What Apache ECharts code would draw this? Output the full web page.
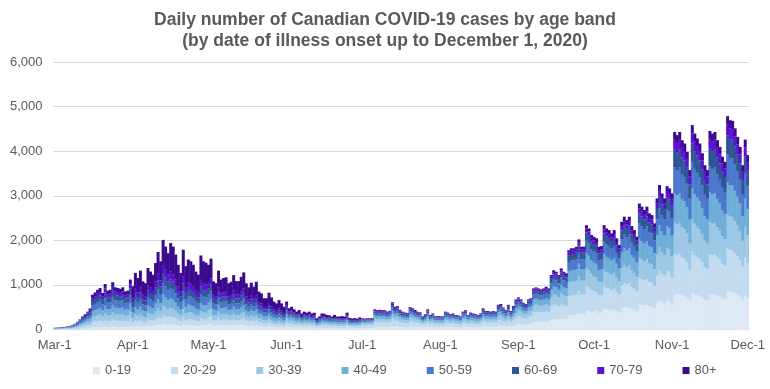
<!DOCTYPE html>
<html>
<head>
<meta charset="utf-8">
<script src="https://cdn.jsdelivr.net/npm/echarts@6/dist/echarts.min.js"></script>
<style>
html,body{margin:0;padding:0;background:#fff;}
#chart{width:770px;height:389px;}
</style>
</head>
<body>
<div id="chart"></div>
<script>
// Month names / lengths used to build the daily categories (Mar 1 .. Dec 1, 2020)
const monthNames = ['Mar','Apr','May','Jun','Jul','Aug','Sep','Oct','Nov','Dec'];
const monthDays = [31,30,31,30,31,31,30,31,30,1];
const tickLabels = ['Mar-1','Apr-1','May-1','Jun-1','Jul-1','Aug-1','Sep-1','Oct-1','Nov-1','Dec-1'];
const yTicks = [0,1000,2000,3000,4000,5000,6000];
const bandNames = ['0-19','20-29','30-39','40-49','50-59','60-69','70-79','80+'];

const a0_19 = [2,2,3,3,3,4,4,5,7,9,12,15,17,20,
28,47,50,53,56,49,61,52,53,64,57,56,55,57,51,52,67,
58,76,69,79,65,62,83,78,74,89,104,92,121,112,103,
116,112,101,87,76,107,85,94,92,87,78,74,100,92,90,
116,127,86,83,106,90,92,94,83,86,98,87,87,94,102,83,76,84,77,86,68,65,56,56,66,58,50,47,53,47,41,
63,48,51,45,40,44,36,40,38,40,36,38,25,29,36,35,33,32,29,33,29,29,30,29,38,26,25,26,24,27,
33,32,33,33,34,59,56,57,56,56,52,55,79,66,68,57,52,49,48,65,62,57,52,50,38,44,59,42,47,39,39,
45,44,60,57,52,54,49,49,44,60,65,49,57,54,52,49,54,71,62,62,60,62,60,83,86,74,65,83,62,79,101,
130,122,108,103,122,126,166,170,166,162,166,173,166,220,239,233,220,247,233,227,320,328,328,334,364,334,335,421,408,382,
416,409,371,374,468,453,446,431,446,409,379,483,506,491,506,464,446,416,565,551,536,551,521,513,476,588,648,610,588,643,633,
549,797,785,797,764,751,717,644,825,791,771,751,711,663,644,802,791,797,764,737,698,677,861,845,842,812,778,737,663,767,704];

const a20_29 = [7,8,9,10,11,13,14,18,23,31,41,52,61,72,
71,117,125,134,140,123,153,131,134,159,142,140,137,142,128,131,168,
97,127,116,132,108,104,138,130,123,149,174,153,201,186,171,
175,167,151,131,114,161,128,141,138,131,117,111,149,138,135,
160,175,119,114,145,123,127,129,114,118,134,119,119,130,141,114,104,116,106,118,94,89,77,77,91,79,69,64,73,64,56,
106,81,87,77,68,74,61,68,64,68,61,64,43,49,61,60,55,54,49,55,49,49,51,49,64,44,42,43,41,46,
63,61,64,63,65,113,108,110,108,108,100,105,153,128,131,110,100,95,93,125,119,109,100,96,73,85,113,81,90,75,75,
69,67,92,87,79,83,75,75,67,92,100,75,87,83,79,75,83,109,95,95,92,95,92,127,131,113,100,127,95,121,155,
173,162,144,137,162,168,221,227,221,216,221,230,221,293,319,311,293,329,311,302,427,437,437,445,485,445,446,562,544,509,
437,429,390,393,491,476,468,453,468,429,398,507,531,516,531,487,468,437,593,579,563,579,547,539,500,617,680,641,617,675,665,
610,886,872,886,849,834,797,715,917,879,857,834,790,737,715,891,879,886,849,819,775,752,957,939,936,902,864,819,737,852,782];

const a30_39 = [7,8,9,9,10,12,14,17,22,29,39,49,58,68,
71,117,125,134,140,123,153,131,134,159,142,140,137,142,128,131,168,
107,140,127,145,119,114,152,143,135,164,191,168,221,205,188,
194,186,168,145,127,179,142,157,153,145,130,123,166,153,150,
160,175,119,114,145,123,127,129,114,118,134,119,119,130,141,114,104,116,106,118,94,89,77,77,91,79,69,64,73,64,56,
88,67,71,63,56,61,50,56,53,56,50,53,35,41,50,49,46,44,41,46,41,41,42,41,53,36,34,36,34,38,
43,42,43,43,44,77,73,75,73,73,68,71,104,87,89,75,68,65,63,85,81,74,68,65,49,58,77,55,61,51,51,
51,49,68,65,59,61,55,55,49,68,74,55,65,61,59,55,61,81,71,71,68,71,68,94,97,83,74,94,71,89,115,
122,115,102,97,115,119,156,161,156,153,156,163,156,207,226,220,207,233,220,214,303,309,309,315,343,315,316,398,385,360,
333,327,297,299,374,362,357,345,357,327,303,386,405,393,405,371,357,333,452,441,429,441,417,410,381,470,518,488,470,514,506,
488,709,698,709,679,667,638,572,734,703,686,667,632,590,572,713,703,709,679,655,620,602,766,751,749,722,691,655,590,682,626];

const a40_49 = [7,8,9,9,10,12,14,17,22,29,39,49,58,68,
75,125,133,142,149,131,163,139,142,170,151,149,146,151,137,139,179,
116,152,139,158,130,125,166,156,148,179,209,184,241,223,205,
213,205,185,160,140,197,156,173,168,160,143,135,183,168,165,
174,191,130,125,158,134,139,140,124,128,146,130,130,142,154,124,113,126,115,128,102,97,84,84,99,86,75,70,79,70,61,
88,67,71,63,56,61,50,56,53,56,50,53,35,41,50,49,46,44,41,46,41,41,42,41,53,36,34,36,34,38,
35,34,36,35,36,63,60,62,60,60,56,59,85,71,74,62,56,53,52,70,67,61,56,54,41,48,63,46,50,42,42,
45,44,60,57,52,54,49,49,44,60,65,49,57,54,52,49,54,71,62,62,60,62,60,83,86,74,65,83,62,79,101,
101,95,84,80,95,98,129,132,129,126,129,134,129,171,186,181,171,192,181,176,249,255,255,260,283,260,260,328,317,297,
312,307,278,281,351,340,335,323,335,307,284,362,380,368,380,348,335,312,424,413,402,413,391,385,357,441,486,458,441,482,475,
458,665,654,665,637,626,598,536,688,659,643,626,593,553,536,668,659,665,637,614,581,564,718,704,702,677,648,614,553,639,587];

const a50_59 = [7,8,9,10,11,13,14,18,23,31,41,52,61,72,
80,133,141,151,158,139,173,148,151,180,161,158,155,161,145,148,190,
126,165,150,172,140,135,179,169,160,194,226,199,261,242,222,
233,223,202,174,152,215,170,188,184,174,156,148,199,184,180,
174,191,130,125,158,134,139,140,124,128,146,130,130,142,154,124,113,126,115,128,102,97,84,84,99,86,75,70,79,70,61,
81,62,66,59,52,57,47,52,49,52,47,49,33,38,47,46,42,41,38,42,38,38,39,38,49,34,32,33,31,35,
30,29,31,30,31,54,52,53,52,52,48,50,73,61,63,53,48,46,44,60,57,52,48,46,35,41,54,39,43,36,36,
39,38,52,49,45,47,42,42,38,52,57,42,49,47,45,42,47,62,54,54,52,54,52,72,74,64,57,72,54,68,88,
86,81,72,68,81,84,110,113,110,108,110,115,110,146,160,155,146,164,155,151,214,218,218,223,242,223,223,281,272,254,
250,245,223,224,281,272,268,259,268,245,227,290,304,295,304,278,268,250,339,331,322,331,313,308,286,353,389,366,353,386,380,
397,576,567,576,552,542,518,465,596,571,557,542,514,479,465,579,571,576,552,532,504,489,622,610,608,586,562,532,479,554,508];

const a60_69 = [6,6,7,8,8,10,11,14,18,24,32,41,48,56,
61,101,108,116,121,107,133,113,116,138,123,121,118,123,111,113,146,
107,140,127,145,119,114,152,143,135,164,191,168,221,205,188,
194,186,168,145,127,179,142,157,153,145,130,123,166,153,150,
145,159,108,104,132,112,116,117,104,107,122,109,109,118,128,104,95,105,96,107,85,81,70,70,83,72,63,59,66,59,51,
63,48,51,45,40,44,36,40,38,40,36,38,25,29,36,35,33,32,29,33,29,29,30,29,38,26,25,26,24,27,
23,22,23,23,23,41,39,40,39,39,36,38,55,46,47,40,36,34,33,45,43,39,36,35,26,31,41,29,32,27,27,
27,26,36,34,31,32,29,29,26,36,39,29,34,32,31,29,32,43,37,37,36,37,36,50,51,44,39,50,37,47,61,
58,54,48,46,54,56,74,76,74,72,74,77,74,98,106,104,98,110,104,101,142,146,146,148,162,148,149,187,181,170,
166,164,148,150,187,181,178,172,178,164,152,193,202,196,202,186,178,166,226,220,214,220,208,205,190,235,259,244,235,257,253,
275,399,392,399,382,375,359,322,413,396,386,375,356,332,322,401,396,399,382,369,349,338,431,423,421,406,389,369,332,383,352];

const a70_79 = [3,3,4,4,4,5,6,7,9,12,16,20,24,28,
38,62,66,71,74,66,82,70,71,85,76,74,73,76,68,70,90,
87,114,104,119,97,94,124,117,111,134,157,138,181,167,154,
175,167,151,131,114,161,128,141,138,131,117,111,149,138,135,
116,127,86,83,106,90,92,94,83,86,98,87,87,94,102,83,76,84,77,86,68,65,56,56,66,58,50,47,53,47,41,
44,33,36,32,28,30,25,28,26,28,25,26,18,20,25,25,23,22,20,23,20,20,21,20,26,18,17,18,17,19,
13,12,13,13,13,23,22,22,22,22,20,21,31,26,26,22,20,19,19,25,24,22,20,19,15,17,23,16,18,15,15,
12,12,16,15,14,14,13,13,12,16,17,13,15,14,14,13,14,19,17,17,16,17,16,22,23,20,17,22,17,21,27,
29,27,24,23,27,28,37,38,37,36,37,38,37,49,53,52,49,55,52,50,71,73,73,74,81,74,74,94,91,85,
83,82,74,75,94,91,89,86,89,82,76,97,101,98,101,93,89,83,113,110,107,110,104,103,95,118,130,122,118,129,127,
153,222,218,222,212,209,199,179,229,220,214,209,198,184,179,223,220,222,212,205,194,188,239,235,234,226,216,205,184,213,196];

const a80p = [2,2,2,2,2,3,3,4,5,7,9,12,14,16,
47,78,83,89,93,82,102,87,89,106,95,93,91,95,86,87,112,
272,356,323,370,302,291,386,364,344,417,487,428,563,521,479,
640,614,554,479,419,591,469,518,505,479,429,406,548,505,495,
406,445,302,291,370,314,323,328,290,300,342,304,304,330,358,290,265,294,269,300,238,227,196,196,231,202,175,164,185,164,143,
94,71,77,68,60,65,54,60,56,60,54,56,38,44,54,53,49,47,44,49,44,44,45,44,56,39,37,38,36,41,
13,12,13,13,13,23,22,22,22,22,20,21,31,26,26,22,20,19,19,25,24,22,20,19,15,17,23,16,18,15,15,
12,12,16,15,14,14,13,13,12,16,17,13,15,14,14,13,14,19,17,17,16,17,16,22,23,20,17,22,17,21,27,
22,20,18,17,20,21,28,28,28,27,28,29,28,37,40,39,37,41,39,38,53,55,55,56,61,56,56,70,68,64,
83,82,74,75,94,91,89,86,89,82,76,97,101,98,101,93,89,83,113,110,107,110,104,103,95,118,130,122,118,129,127,
122,177,174,177,170,167,159,143,183,176,171,167,158,147,143,178,176,177,170,164,155,150,191,188,187,180,173,164,147,170,156];

const bandData = [a0_19, a20_29, a30_39, a40_49, a50_59, a60_69, a70_79, a80p];
const bandColors = ['#dce9f4','#c3dbee','#9dc8e5','#6eaed9','#4a78cc','#2f5597','#5a10d5','#3b0a8e'];

// daily categories
const categories = [];
monthNames.forEach((m, i) => { for (let d = 1; d <= monthDays[i]; d++) categories.push(m + '-' + d); });

const font = "'Liberation Sans', Arial, sans-serif";
const gray = '#595959';

const chart = echarts.init(document.getElementById('chart'), null, {renderer: 'canvas'});
chart.setOption({
  animation: false,
  backgroundColor: '#ffffff',
  title: {
    text: 'Daily number of Canadian COVID-19 cases by age band\n(by date of illness onset up to December 1, 2020)',
    left: 'center',
    top: 5,
    textStyle: {fontFamily: font, fontSize: 17.5, fontWeight: 'bold', color: gray, lineHeight: 21}
  },
  legend: {
    data: bandNames,
    left: 93,
    top: 364,
    padding: 0,
    itemWidth: 7,
    itemHeight: 7,
    itemGap: 40,
    icon: 'rect',
    textStyle: {fontFamily: font, fontSize: 13, color: gray}
  },
  grid: {left: 53.5, right: 21, top: 62, bottom: 59.5, containLabel: false},
  xAxis: {
    type: 'category',
    data: categories,
    boundaryGap: true,
    axisLine: {lineStyle: {color: '#d9d9d9'}},
    axisTick: {show: false},
    axisLabel: {
      interval: (i, v) => tickLabels.indexOf(v) >= 0,
      fontFamily: font, fontSize: 13, color: gray, margin: 9
    },
    splitLine: {show: false}
  },
  yAxis: {
    type: 'value',
    min: yTicks[0],
    max: yTicks[yTicks.length - 1],
    interval: 1000,
    axisLine: {show: false},
    axisTick: {show: false},
    axisLabel: {
      fontFamily: font, fontSize: 13, color: gray, margin: 11,
      formatter: v => v.toLocaleString('en-US')
    },
    splitLine: {lineStyle: {color: '#d9d9d9', width: 1}}
  },
  series: bandNames.map((name, i) => ({
    name: name,
    type: 'bar',
    stack: 'total',
    data: bandData[i],
    barWidth: 3,
    itemStyle: {color: bandColors[i]},
    emphasis: {disabled: true}
  }))
});
</script>
</body>
</html>
